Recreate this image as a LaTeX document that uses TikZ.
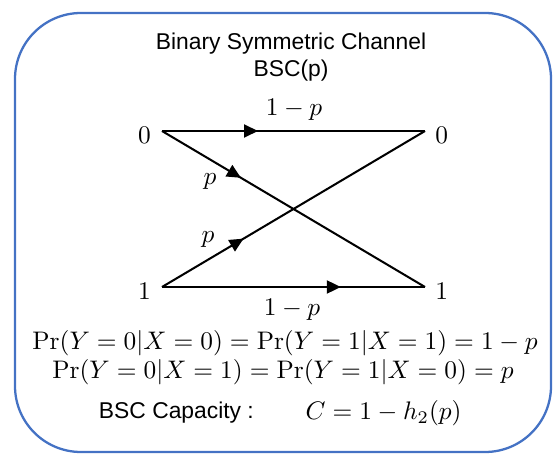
\documentclass[tikz,border=0pt]{standalone}
\usepackage{fontspec}
\setsansfont{Liberation Sans}
\usetikzlibrary{arrows.meta,positioning,decorations.markings}
\definecolor{FrameBlue}{RGB}{68,114,196}
\tikzset{
  chan/.style={line width=0.8pt},
  midarrow/.style={postaction={decorate},decoration={markings,
    mark=at position #1 with {\arrow{Triangle[length=5.5pt,width=5.1pt]}}}},
  sym/.style={inner sep=0.8pt},
  caption/.style={font=\sffamily\fontsize{9}{10.8}\selectfont,align=center}
}
\begin{document}
\begin{tikzpicture}[x=0.394pt,y=-0.394pt]
  \useasboundingbox (0,0) rectangle (555,456);
  \draw[FrameBlue,line width=0.9pt,rounded corners=26pt] (15,13) rectangle (551,452);
  \node[caption] (title) at (291,57) {Binary Symmetric Channel\\BSC(p)};
  \coordinate (x0) at (162,131);
  \coordinate (x1) at (162,287);
  \coordinate (y0) at (425,131);
  \coordinate (y1) at (425,287);
  \node[sym,left=3.4pt of x0,yshift=-1.6pt] (lx0) {$0$};
  \node[sym,left=3.4pt of x1,yshift=-1.6pt] (lx1) {$1$};
  \node[sym,right=3.1pt of y0,yshift=-1.6pt] (ly0) {$0$};
  \node[sym,right=3.1pt of y1,yshift=-1.6pt] (ly1) {$1$};
  \draw[chan,midarrow=.365] (x0) -- (y0);
  \draw[chan,midarrow=.30] (x0) -- (y1);
  \draw[chan,midarrow=.31] (x1) -- (y0);
  \draw[chan,midarrow=.68] (x1) -- (y1);
  \node[sym] (p00) at (294,110) {$1-p$};
  \node[sym] (p11) at (292,310) {$1-p$};
  \node[sym] (p01) at (210,182) {$p$};
  \node[sym] (p10) at (208,240) {$p$};
  \node[sym] (eq1) at (285,343) {$\Pr(Y=0|X=0)=\Pr(Y=1|X=1)=1-p$};
  \node[sym] (eq2) at (283,372) {$\Pr(Y=0|X=1)=\Pr(Y=1|X=0)=p$};
  \node[caption,anchor=west] (cap) at (90,413) {BSC Capacity :};
  \node[sym,anchor=west] (capv) at (303,413) {$C=1-h_2(p)$};
\end{tikzpicture}
\end{document}
